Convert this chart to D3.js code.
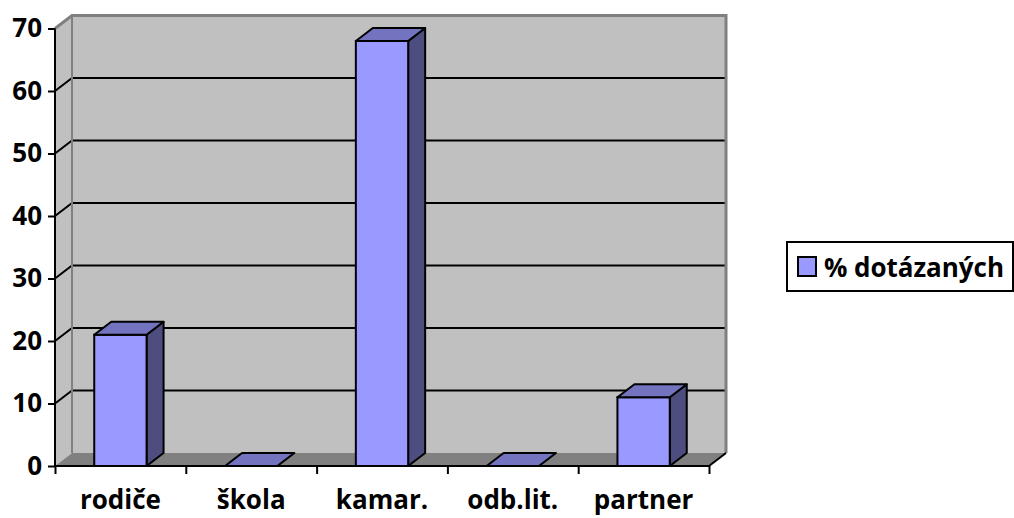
<!DOCTYPE html>
<html lang="cs">
<head>
<meta charset="UTF-8">
<title>% dotázaných</title>
<script src="https://d3js.org/d3.v7.min.js"></script>
<style>
    body { margin: 0; background: #fff; }
    svg text { font-family: "Open Sans", "DejaVu Sans", sans-serif; font-weight: 700; fill: #000; }
</style>
</head>
<body>
<svg id="chart" width="1014" height="518"></svg>
<script>
// data
const categories = ["rodiče", "škola", "kamar.", "odb.lit.", "partner"];
const values = [21, 0, 68, 0, 11];
const yTicks = [0, 10, 20, 30, 40, 50, 60, 70];
const seriesName = "% dotázaných";

const svg = d3.select("#chart");

// front plane of the 3d box, plus the depth offset
const plotLeft = 55, plotRight = 709, plotBottom = 466, plotTop = 28.5;
const dx = 17, dy = -13;

const x = d3.scaleBand().domain(categories).range([plotLeft, plotRight]);
const y = d3.scaleLinear().domain([0, 70]).range([plotBottom, plotTop]);
const barW = x.bandwidth() * 0.4;

const pts = a => a.map(p => p.join(",")).join(" ");

// left side wall
svg.append("polygon")
    .attr("points", pts([[plotLeft, plotBottom], [plotLeft, y(70)], [plotLeft + dx, y(70) + dy], [plotLeft + dx, plotBottom + dy]]))
    .attr("fill", "#c0c0c0");

// back wall
svg.append("rect")
    .attr("x", plotLeft + dx).attr("y", y(70) + dy)
    .attr("width", plotRight - plotLeft).attr("height", plotBottom - y(70))
    .attr("fill", "#c0c0c0");

// floor
svg.append("polygon")
    .attr("points", pts([[plotLeft, plotBottom], [plotLeft + dx, plotBottom + dy], [plotRight + dx, plotBottom + dy], [plotRight, plotBottom]]))
    .attr("fill", "#808080");

// gridlines on back wall + side wall
const grid = yTicks.filter(d => d > 0 && d < 70);
svg.append("g").selectAll("polyline").data(grid).join("polyline")
    .attr("points", d => pts([[plotLeft, y(d)], [plotLeft + dx, y(d) + dy], [plotRight + dx, y(d) + dy]]))
    .attr("fill", "none").attr("stroke", "#000").attr("stroke-width", 2);

// wall borders (gray)
svg.append("polyline")
    .attr("points", pts([[plotLeft, y(70)], [plotLeft + dx, y(70) + dy], [plotRight + dx, y(70) + dy], [plotRight + dx, plotBottom + dy]]))
    .attr("fill", "none").attr("stroke", "#808080").attr("stroke-width", 3);
svg.append("line")
    .attr("x1", plotLeft + dx).attr("x2", plotLeft + dx)
    .attr("y1", y(70) + dy).attr("y2", plotBottom + dy)
    .attr("stroke", "#808080").attr("stroke-width", 2);

// floor right edge
svg.append("line")
    .attr("x1", plotRight).attr("y1", plotBottom).attr("x2", plotRight + dx).attr("y2", plotBottom + dy)
    .attr("stroke", "#000").attr("stroke-width", 2);

// bars
const bars = svg.append("g").selectAll("g").data(categories).join("g");
bars.each(function (c, i) {
    const g = d3.select(this);
    const v = values[i];
    const x0 = x(c) + (x.bandwidth() - barW) / 2, x1 = x0 + barW;
    const yt = y(v);
    if (v > 0) {
        g.append("polygon")
            .attr("points", pts([[x1, plotBottom], [x1, yt], [x1 + dx, yt + dy], [x1 + dx, plotBottom + dy]]))
            .attr("fill", "#4d4d80").attr("stroke", "#000").attr("stroke-width", 2).attr("stroke-linejoin", "round");
        g.append("rect")
            .attr("x", x0).attr("y", yt).attr("width", barW).attr("height", plotBottom - yt)
            .attr("fill", "#9999ff").attr("stroke", "#000").attr("stroke-width", 2);
    }
    g.append("polygon")
        .attr("points", pts([[x0, yt], [x0 + dx, yt + dy], [x1 + dx, yt + dy], [x1, yt]]))
        .attr("fill", "#7373bf").attr("stroke", "#000").attr("stroke-width", 2).attr("stroke-linejoin", "round");
});

// y axis
const yAxis = svg.append("g")
    .attr("transform", `translate(${plotLeft},0)`)
    .call(d3.axisLeft(y).tickValues(yTicks).tickSize(7).tickPadding(6));
yAxis.select(".domain").attr("stroke", "#000").attr("stroke-width", 2).attr("d", `M0,${y(70)}V${plotBottom}`);
yAxis.selectAll(".tick line").attr("stroke", "#000").attr("stroke-width", 2);
yAxis.selectAll(".tick text").attr("font-size", 26).attr("font-family", null);

// x axis: tick marks at band edges, labels at centres
const edges = d3.scaleLinear().domain([0, categories.length]).range([plotLeft, plotRight]);
const xTicks = svg.append("g")
    .attr("transform", `translate(0,${plotBottom})`)
    .call(d3.axisBottom(edges).ticks(categories.length).tickSize(8).tickFormat(""));
xTicks.select(".domain").attr("stroke", "#000").attr("stroke-width", 2).attr("d", `M${plotLeft},0H${plotRight}`);
xTicks.selectAll(".tick line").attr("stroke", "#000").attr("stroke-width", 2);

const xLabels = svg.append("g")
    .attr("transform", `translate(0,${plotBottom})`)
    .call(d3.axisBottom(x).tickSize(0).tickPadding(25));
xLabels.select(".domain").remove();
xLabels.selectAll(".tick text").attr("font-size", 26).attr("font-family", null);

// legend
const legend = svg.append("g").attr("transform", "translate(787,242)");
legend.append("rect").attr("width", 226).attr("height", 49)
    .attr("fill", "#fff").attr("stroke", "#000").attr("stroke-width", 2);
legend.append("rect").attr("x", 11).attr("y", 15).attr("width", 18).attr("height", 19)
    .attr("fill", "#9999ff").attr("stroke", "#000").attr("stroke-width", 2);
legend.append("text").attr("x", 37).attr("y", 35).attr("font-size", 26).attr("textLength", 180).text(seriesName);
</script>
</body>
</html>
